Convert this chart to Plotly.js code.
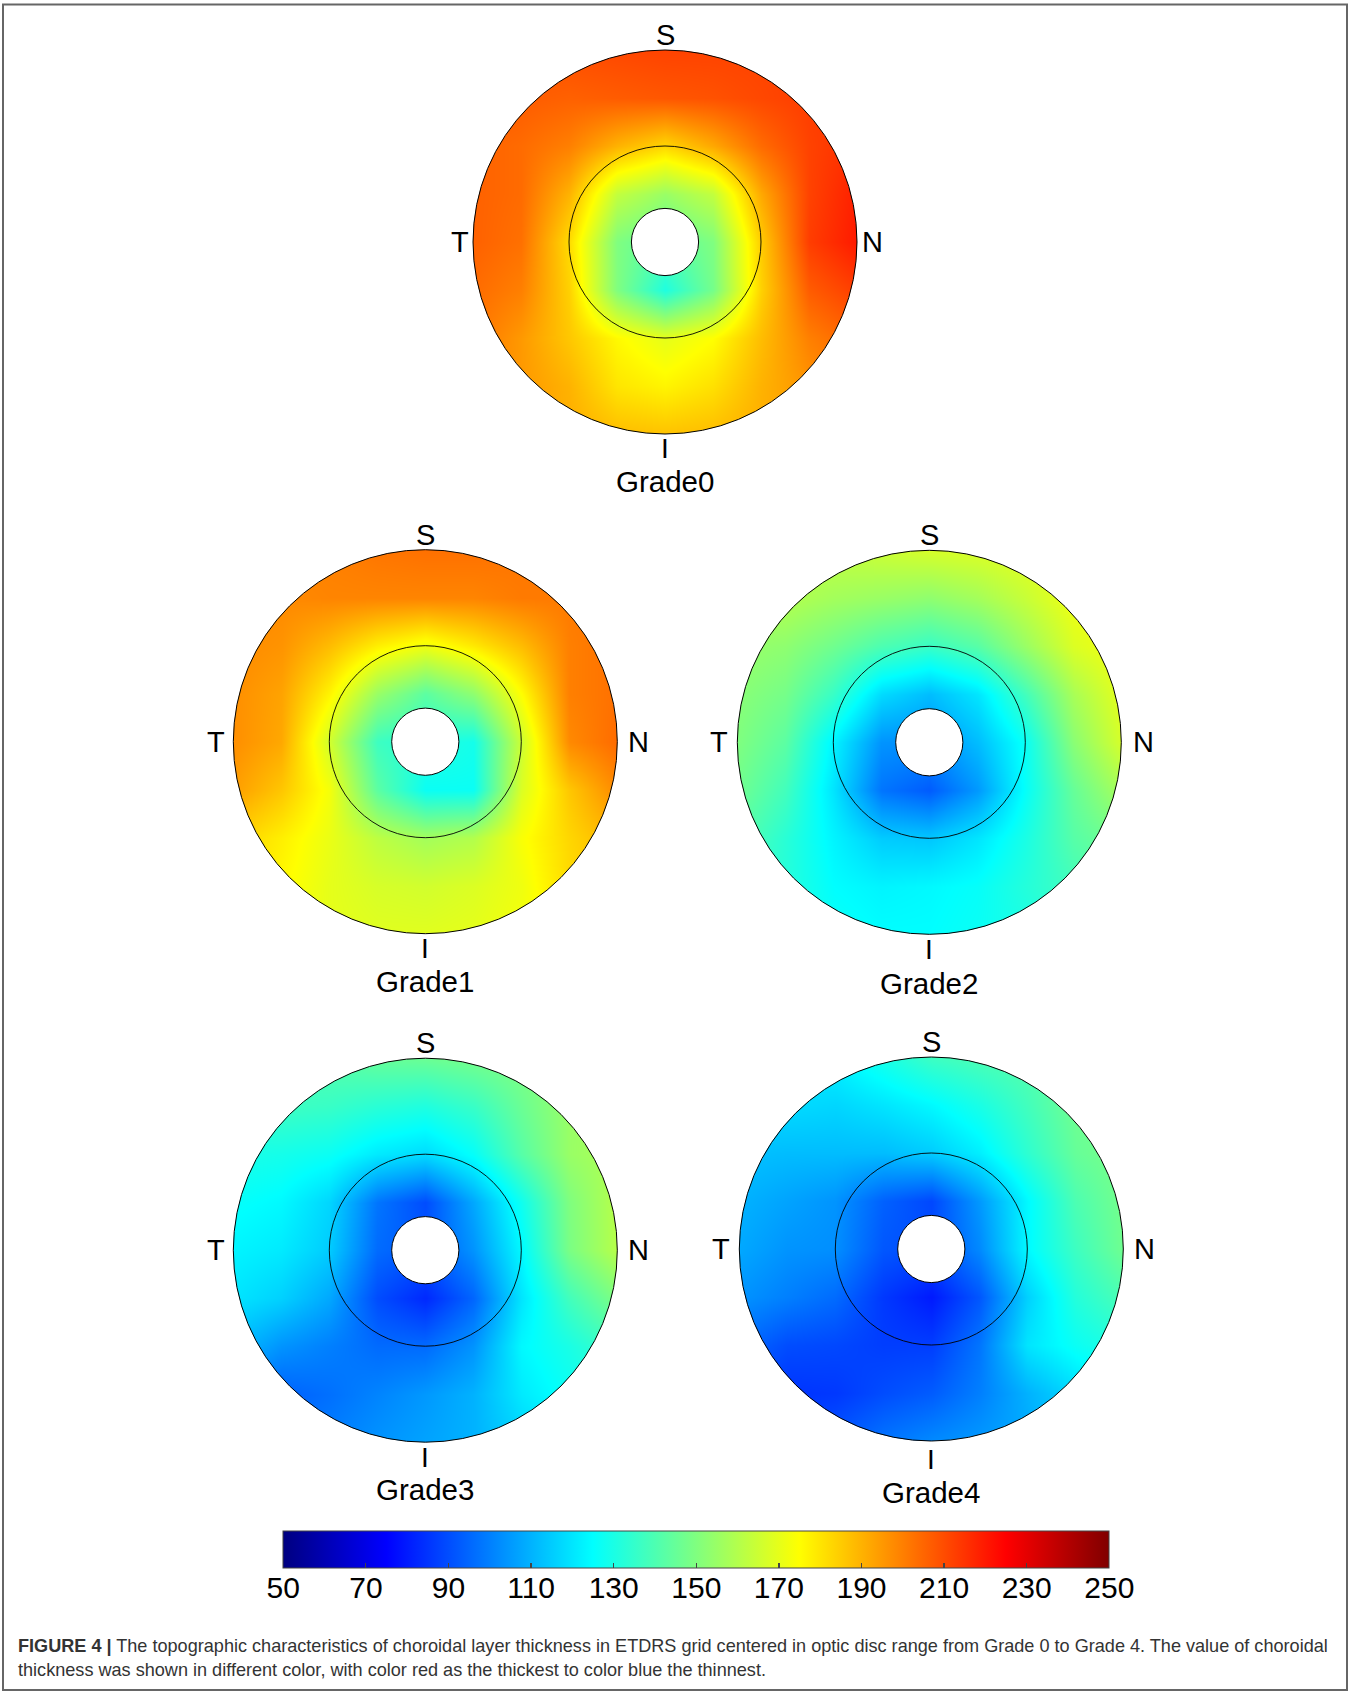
<!DOCTYPE html>
<html><head><meta charset="utf-8">
<script src="https://cdn.plot.ly/plotly-3.0.1.min.js"></script>
<style>html,body{margin:0;padding:0;background:#fff}</style>
</head><body>
<div id="chart" style="width:1352px;height:1692px"></div>
<script>
// ---------- data (choroidal thickness, µm) ----------
// grid positions across each disc (x: T(-1) -> N(+1), y: S(+1) -> I(-1)), rows listed top (S) to bottom (I)
const gridX = [-1, -0.75, -0.5, -0.25, 0, 0.25, 0.5, 0.75, 1];
const gridY = [1, 0.75, 0.5, 0.25, 0, -0.25, -0.5, -0.75, -1];

const grade0 = [
  [207, 208, 210, 211, 212, 212, 212, 213, 213],
  [207, 207, 206, 207, 208, 209, 211, 213, 214],
  [206, 204, 200, 190, 183, 192, 204, 212, 216],
  [206, 204, 190, 163, 155, 163, 192, 212, 219],
  [206, 203, 182, 150, 142, 150, 185, 213, 220],
  [204, 200, 184, 150, 131, 148, 184, 207, 213],
  [202, 195, 186, 176, 170, 175, 188, 200, 206],
  [198, 195, 190, 180, 177, 181, 190, 196, 200],
  [195, 193, 191, 188, 187, 188, 191, 193, 196]
];
const grade1 = [
  [198, 199, 200, 202, 203, 203, 202, 201, 200],
  [198, 198, 199, 199, 199, 199, 201, 201, 202],
  [198, 196, 188, 178, 172, 179, 188, 200, 203],
  [197, 193, 177, 155, 143, 153, 175, 200, 203],
  [197, 192, 166, 137, 132, 129, 165, 198, 204],
  [194, 186, 173, 143, 127, 127, 168, 186, 198],
  [184, 178, 171, 162, 157, 160, 174, 183, 190],
  [181, 176, 170, 167, 166, 168, 172, 182, 186],
  [176, 173, 170, 169, 169, 170, 173, 177, 182]
];
const grade2 = [
  [160, 162, 163, 165, 167, 168, 170, 171, 172],
  [158, 160, 157, 155, 153, 157, 164, 172, 173],
  [155, 153, 147, 140, 136, 142, 155, 168, 173],
  [152, 148, 136, 118, 112, 120, 138, 158, 170],
  [150, 143, 123, 104, 103, 112, 127, 152, 167],
  [147, 138, 120, 98, 93, 105, 126, 145, 158],
  [142, 133, 123, 115, 114, 120, 130, 142, 148],
  [137, 132, 125, 123, 124, 126, 132, 138, 142],
  [132, 129, 127, 125, 125, 127, 130, 134, 138]
];
const grade3 = [
  [137, 139, 142, 145, 146, 148, 150, 152, 155],
  [134, 137, 136, 133, 131, 136, 146, 155, 157],
  [130, 129, 127, 121, 118, 126, 142, 155, 159],
  [126, 124, 117, 98, 90, 108, 128, 150, 161],
  [123, 121, 115, 96, 92, 104, 124, 149, 161],
  [120, 116, 108, 90, 83, 95, 120, 138, 150],
  [112, 104, 100, 96, 96, 104, 124, 130, 138],
  [100, 94, 97, 101, 105, 110, 121, 127, 131],
  [94, 96, 100, 104, 107, 110, 116, 122, 127]
];
const grade4 = [
  [118, 120, 123, 130, 137, 140, 142, 144, 147],
  [116, 118, 117, 120, 124, 130, 138, 147, 148],
  [113, 112, 112, 112, 115, 122, 134, 145, 149],
  [110, 107, 104, 94, 89, 105, 124, 140, 148],
  [108, 104, 103, 92, 90, 102, 124, 137, 147],
  [104, 100, 96, 86, 80, 92, 116, 132, 140],
  [96, 90, 89, 87, 87, 98, 120, 127, 132],
  [88, 85, 86, 90, 93, 100, 110, 118, 124],
  [85, 87, 92, 98, 102, 105, 108, 113, 118]
];
const gradeNames = ['Grade0', 'Grade1', 'Grade2', 'Grade3', 'Grade4'];
const directionLabels = ['S', 'T', 'N', 'I'];
const tickValues = [50, 70, 90, 110, 130, 150, 170, 190, 210, 230, 250];
const captionBold = 'FIGURE 4 |';
const captionLine1 = ' The topographic characteristics of choroidal layer thickness in ETDRS grid centered in optic disc range from Grade 0 to Grade 4. The value of choroidal';
const captionLine2 = 'thickness was shown in different color, with color red as the thickest to color blue the thinnest.';

// ---------- layout geometry ----------
const W = 1352, H = 1692, HALF = 240, RANGE = 1.25, UNIT = HALF / RANGE;
const centers = [[665, 242], [425.3, 741.7], [929.3, 742.3], [425.3, 1250.2], [931.3, 1249]];
const tOffset = [-1.07, -1.092, -1.097, -1.092, -1.097];
const nOffset = [1.081, 1.109, 1.114, 1.109, 1.108];
const iLabelPx = [449, 948.5, 949.5, 1457, 1459];      // vertical centre of the "I" labels
const gradeLabelPx = [481.5, 981.5, 983.5, 1489.5, 1492.5]; // vertical centre of the grade names
const grids = [grade0, grade1, grade2, grade3, grade4];
const FONT = 'Liberation Sans, Arial, Helvetica, sans-serif';

const jet = [[0, 'rgb(0,0,128)'], [0.125, 'rgb(0,0,255)'], [0.375, 'rgb(0,255,255)'],
             [0.625, 'rgb(255,255,0)'], [0.875, 'rgb(255,0,0)'], [1, 'rgb(128,0,0)']];

function circlePath(r) {
  const k = 0.55228 * r;
  return `M ${r},0 C ${r},${k} ${k},${r} 0,${r} C ${-k},${r} ${-r},${k} ${-r},0 ` +
         `C ${-r},${-k} ${-k},${-r} 0,${-r} C ${k},${-r} ${r},${-k} ${r},0 Z`;
}

const barLeft = 283.3, barRight = 1109.3, barTop = 1530.7, barBottom = 1567.3;

const data = [];
const layout = {
  width: W, height: H,
  margin: {l: 0, r: 0, t: 0, b: 0},
  paper_bgcolor: '#fff', plot_bgcolor: 'rgba(0,0,0,0)',
  showlegend: false,
  font: {family: FONT, color: '#000'},
  coloraxis: {
    colorscale: jet, cmin: 50, cmax: 250,
    colorbar: {
      orientation: 'h',
      x: (barLeft + barRight) / 2 / W, xanchor: 'center',
      y: 1 - barTop / H, yanchor: 'top',
      len: barRight - barLeft, lenmode: 'pixels',
      thickness: barBottom - barTop, thicknessmode: 'pixels',
      xpad: 0, ypad: 0,
      outlinewidth: 1, outlinecolor: '#444',
      ticks: 'inside', ticklen: 5, tickwidth: 1.2, tickcolor: '#444',
      tickmode: 'array', tickvals: tickValues, showticklabels: false
    }
  },
  // axis carrying the colour-bar tick labels, aligned with the bar
  xaxis6: {domain: [barLeft / W, barRight / W], range: [50, 250], anchor: 'y6',
           tickmode: 'array', tickvals: tickValues, ticktext: tickValues.map(String),
           ticks: '', showline: false, showgrid: false, zeroline: false, fixedrange: true,
           tickfont: {family: FONT, size: 30, color: '#000'}},
  yaxis6: {domain: [1 - barBottom / H, 1 - barTop / H], range: [0, 1], anchor: 'x6',
           visible: false, fixedrange: true},
  shapes: [], annotations: []
};

data.push({type: 'scatter', xaxis: 'x6', yaxis: 'y6', x: [], y: [], hoverinfo: 'skip'});

grids.forEach((rows, i) => {
  const sfx = i === 0 ? '' : String(i + 1);
  const [cx, cy] = centers[i];
  const xa = 'xaxis' + sfx, ya = 'yaxis' + sfx;
  layout[xa] = {domain: [(cx - HALF) / W, (cx + HALF) / W], range: [-RANGE, RANGE],
                visible: false, fixedrange: true, anchor: 'y' + sfx};
  layout[ya] = {domain: [1 - (cy + HALF) / H, 1 - (cy - HALF) / H], range: [-RANGE, RANGE],
                visible: false, fixedrange: true, anchor: 'x' + sfx};
  data.push({
    type: 'heatmap', xaxis: 'x' + sfx, yaxis: 'y' + sfx,
    x: gridX, y: gridY.slice().reverse(), z: rows.slice().reverse(),
    zsmooth: 'best', coloraxis: 'coloraxis', hoverinfo: 'skip'
  });
  const xr = 'x' + sfx, yr = 'y' + sfx;
  layout.shapes.push({type: 'path', xref: xr, yref: yr, layer: 'above',
    path: 'M -2,-2 L 2,-2 L 2,2 L -2,2 Z ' + circlePath(1),
    fillcolor: '#fff', fillrule: 'evenodd', line: {width: 0}});
  layout.shapes.push({type: 'circle', xref: xr, yref: yr, layer: 'above',
    x0: -1, x1: 1, y0: -1, y1: 1, line: {color: '#000', width: 1}});
  layout.shapes.push({type: 'circle', xref: xr, yref: yr, layer: 'above',
    x0: -0.5, x1: 0.5, y0: -0.5, y1: 0.5, line: {color: '#000', width: 0.9}});
  layout.shapes.push({type: 'circle', xref: xr, yref: yr, layer: 'above',
    x0: -0.175, x1: 0.175, y0: -0.175, y1: 0.175, fillcolor: '#fff',
    line: {color: '#000', width: 1}});
  const offsets = {S: [0, 1.078], T: [tOffset[i], 0], N: [nOffset[i], 0],
                   I: [0, -(iLabelPx[i] - cy) / UNIT]};
  directionLabels.forEach(lbl => {
    const [ox, oy] = offsets[lbl];
    layout.annotations.push({xref: xr, yref: yr, x: ox, y: oy, text: lbl, showarrow: false,
      xanchor: 'center', yanchor: 'middle',
      font: {family: FONT, size: lbl === 'I' ? 28 : 29, color: '#000'}});
  });
  layout.annotations.push({xref: 'paper', yref: 'paper', x: cx / W, y: 1 - gradeLabelPx[i] / H,
    text: gradeNames[i], showarrow: false, xanchor: 'center', yanchor: 'middle',
    font: {family: FONT, size: 29.5, color: '#000'}});
});

// caption
layout.annotations.push({xref: 'paper', yref: 'paper', x: 16 / W, y: 1 - 1645.5 / H,
  xanchor: 'left', yanchor: 'middle', showarrow: false, align: 'left',
  text: '<b>' + captionBold + '</b>' + captionLine1,
  font: {family: FONT, size: 18.1, color: '#333'}});
layout.annotations.push({xref: 'paper', yref: 'paper', x: 16 / W, y: 1 - 1670.3 / H,
  xanchor: 'left', yanchor: 'middle', showarrow: false, align: 'left',
  text: captionLine2, font: {family: FONT, size: 18.1, color: '#333'}});

// frame
layout.shapes.push({type: 'rect', xref: 'paper', yref: 'paper',
  x0: 3 / W, x1: 1347 / W, y0: 1 - 1690 / H, y1: 1 - 4.5 / H,
  line: {color: '#666', width: 2}, fillcolor: 'rgba(0,0,0,0)', layer: 'above'});

Plotly.newPlot('chart', data, layout, {staticPlot: true, displayModeBar: false});
</script>
</body></html>
